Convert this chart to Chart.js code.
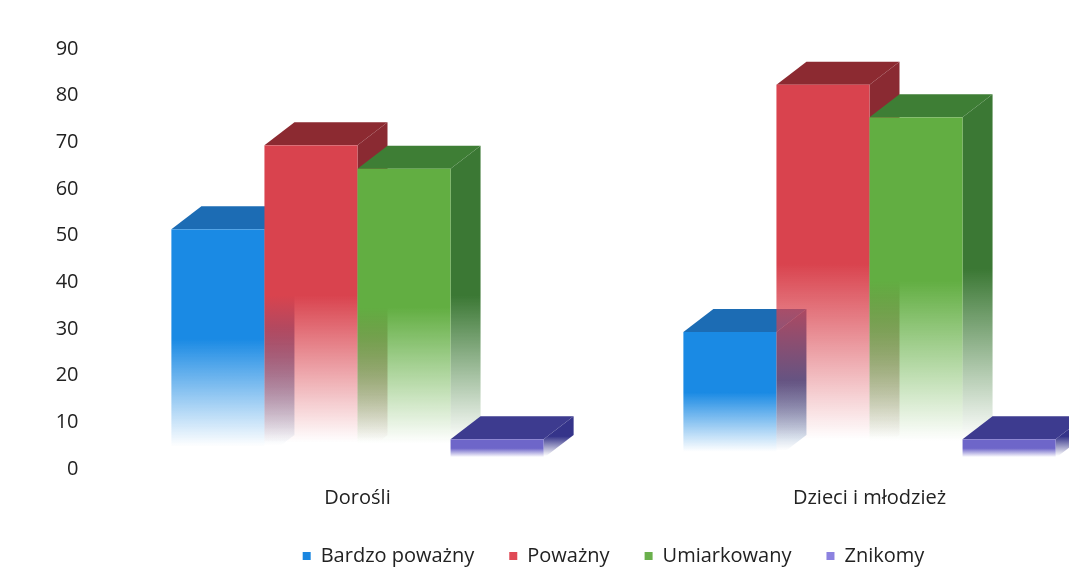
<!DOCTYPE html>
<html>
<head>
<meta charset="utf-8">
<script src="https://cdn.jsdelivr.net/npm/chart.js@4"></script>
<style>
  html, body { margin: 0; padding: 0; background: #fff; overflow: hidden; }
  #wrap { width: 1140px; height: 587px; }
</style>
</head>
<body>
<div id="wrap"><canvas id="chart"></canvas></div>
<script>
// ---------- data ----------
const categories = ["Dorośli", "Dzieci i młodzież"];
const seriesNames = ["Bardzo poważny", "Poważny", "Umiarkowany", "Znikomy"];
const bardzoPowazny = [49, 27];
const powazny = [67, 80];
const umiarkowany = [62, 73];
const znikomy = [4, 4];
const yTicks = [0, 10, 20, 30, 40, 50, 60, 70, 80, 90];

// ---------- colours: front, top, side, legend ----------
const palette = [
  { front: "#1a8ae4", top: "#1c6cb4", side: "#2b5c9c", legend: "#1a86e0" },
  { front: "#d9434e", top: "#8c2a31", side: "#8a2a32", legend: "#e04a56" },
  { front: "#62ae42", top: "#3e7e35", side: "#3b7834", legend: "#6ab04c" },
  { front: "#6e66c9", top: "#3d3b8f", side: "#35348a", legend: "#8c82e0" },
];

// oblique depth of the 3d boxes
const depth = { dx: 30, dy: -23, lift: 11 };

function rgba(hex, a) {
  const n = parseInt(hex.slice(1), 16);
  return `rgba(${(n >> 16) & 255},${(n >> 8) & 255},${n & 255},${a})`;
}

function fade(ctx, top, bottom, color) {
  const g = ctx.createLinearGradient(0, top, 0, bottom);
  g.addColorStop(0, color);
  g.addColorStop(0.48, color);
  g.addColorStop(0.95, rgba(color, 0));
  g.addColorStop(1, rgba(color, 0));
  return g;
}

// draws every bar as a box (side, top, front) from the bar element geometry
const bars3d = {
  id: "bars3d",
  beforeDatasetsDraw(chart) {
    const ctx = chart.ctx;
    chart.data.datasets.forEach((ds, i) => {
      const pal = palette[i];
      chart.getDatasetMeta(i).data.forEach((bar) => {
        const p = bar.getProps(["x", "y", "base", "width"], true);
        const L = p.x - p.width / 2, R = p.x + p.width / 2;
        const T = p.y - depth.lift, B = p.base - depth.lift;
        const { dx, dy } = depth;
        ctx.save();
        // side
        ctx.beginPath();
        ctx.moveTo(R, T); ctx.lineTo(R + dx, T + dy);
        ctx.lineTo(R + dx, B + dy); ctx.lineTo(R, B);
        ctx.closePath();
        ctx.fillStyle = fade(ctx, T + dy, B, pal.side);
        ctx.fill();
        // top
        ctx.beginPath();
        ctx.moveTo(L, T); ctx.lineTo(L + dx, T + dy);
        ctx.lineTo(R + dx, T + dy); ctx.lineTo(R, T);
        ctx.closePath();
        ctx.fillStyle = pal.top;
        ctx.fill();
        // front
        ctx.fillStyle = fade(ctx, T, B, pal.front);
        ctx.fillRect(L, T, R - L, B - T);
        ctx.restore();
      });
    });
    return false;
  },
};

const font = { family: "'Open Sans', sans-serif", size: 20 };

const ctx = document.getElementById("chart").getContext("2d");
const chart = new Chart(ctx, {
  type: "bar",
  data: {
    labels: categories,
    datasets: [bardzoPowazny, powazny, umiarkowany, znikomy].map((d, i) => ({
      label: seriesNames[i],
      data: d,
      backgroundColor: palette[i].legend,
      borderWidth: 0,
      barPercentage: 1,
      categoryPercentage: 0.727,
    })),
  },
  options: {
    responsive: true,
    maintainAspectRatio: false,
    animation: false,
    events: [],
    layout: { padding: { top: 49, right: 14.5, bottom: 11, left: 0 } },
    plugins: {
      tooltip: { enabled: false },
      legend: {
        position: "bottom",
        fullSize: false,
        labels: {
          boxWidth: 8,
          boxHeight: 8,
          padding: 35,
          color: "#222",
          font: font,
        },
      },
    },
    scales: {
      x: {
        afterFit(scale) { scale.height = 42; },
        grid: { display: false, drawTicks: false },
        border: { display: false },
        ticks: { color: "#222", font: font, padding: 17 },
      },
      y: {
        min: 0,
        max: 90,
        afterFit(scale) { scale.width = 101.5; },
        afterBuildTicks(scale) { scale.ticks = yTicks.map((v) => ({ value: v })); },
        grid: { display: false, drawTicks: false },
        border: { display: false },
        ticks: { color: "#222", font: font, padding: 23 },
      },
    },
  },
  plugins: [bars3d],
});
</script>
</body>
</html>
